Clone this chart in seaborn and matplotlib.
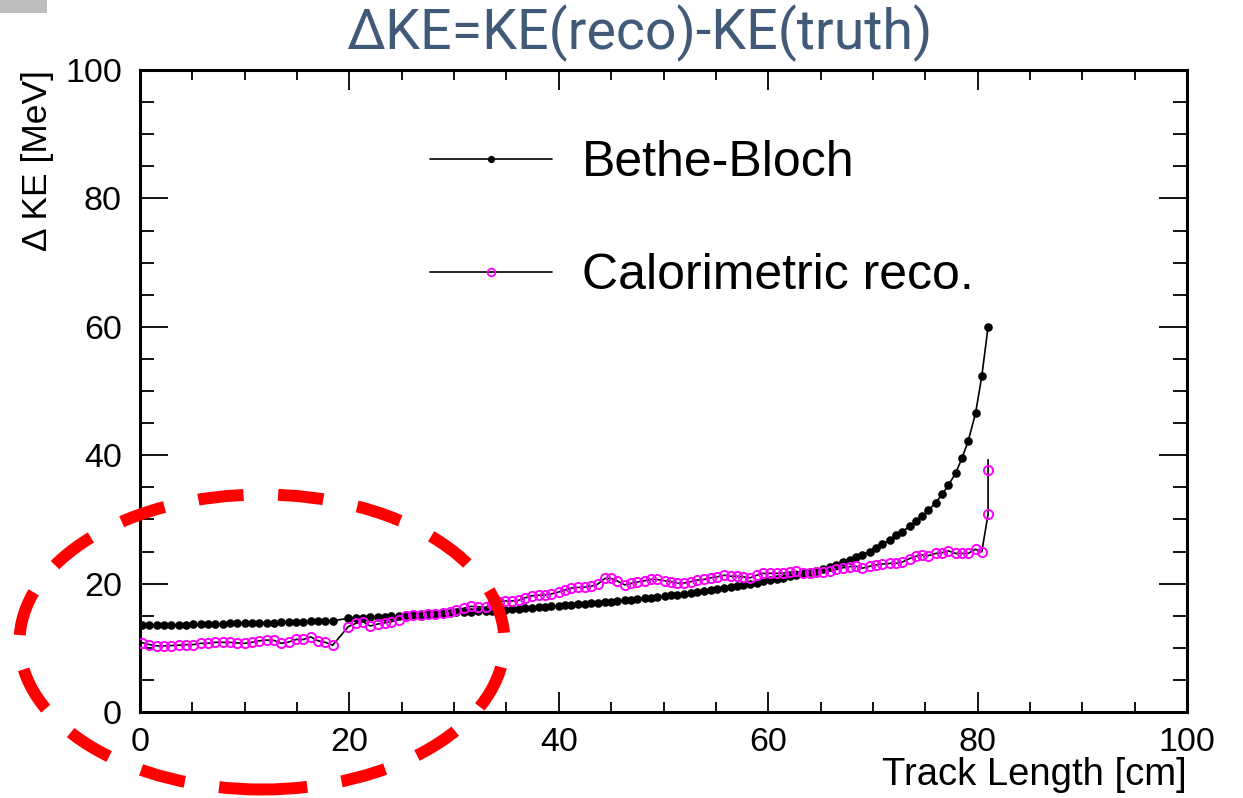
import numpy as np
import pandas as pd
import matplotlib
matplotlib.use("Agg")
import matplotlib.pyplot as plt
from matplotlib.lines import Line2D
from matplotlib.patches import Ellipse, Rectangle
from matplotlib.ticker import MultipleLocator
import seaborn as sns

# ---------------- data ----------------
track_length = [
    0.2, 0.9, 1.6, 2.3, 3.0, 3.7, 4.4, 5.1, 5.8, 6.5, 7.2, 7.9, 8.6, 9.3, 10.0,
    10.7, 11.4, 12.1, 12.8, 13.5, 14.2, 14.9, 15.6, 16.3, 17.0, 17.7, 18.4,
    19.9, 20.6, 21.3, 22.0, 22.7, 23.4, 24.0, 24.7, 25.4, 26.1, 26.8, 27.5, 28.2,
    28.9, 29.6, 30.2, 30.9, 31.6, 32.3, 33.0,
    33.6, 34.3, 34.9, 35.5, 36.2, 36.8, 37.4, 38.1, 38.7, 39.3,
    40.0, 40.6, 41.2, 41.8, 42.5, 43.1, 43.7, 44.4, 45.0, 45.6,
    46.3, 46.9, 47.5, 48.2, 48.8, 49.4, 50.1, 50.7, 51.3, 52.0,
    52.6, 53.2, 53.9, 54.5, 55.1, 55.8, 56.4, 57.0, 57.6, 58.3,
    58.9, 59.5, 60.2, 60.8, 61.4, 62.1, 62.7, 63.3, 64.0, 64.6,
    65.2, 65.9, 66.5, 67.1, 67.8, 68.4, 69.0, 69.7, 70.3, 70.9,
    71.6, 72.2, 72.8, 73.5, 74.1, 74.7, 75.3, 76.0, 76.6, 77.2,
    77.9, 78.5, 79.1, 79.8, 80.4, 81.0,
]

bethe_bloch = [
    13.5, 13.5, 13.5, 13.55, 13.6, 13.6, 13.6, 13.65, 13.7, 13.7, 13.7, 13.75, 13.8,
    13.8, 13.8, 13.85, 13.9, 13.9, 13.9, 13.95, 14.0, 14.0, 14.05, 14.1, 14.1, 14.15, 14.2,
    14.6, 14.65, 14.7, 14.75, 14.8, 14.85, 14.9, 15.0, 15.05, 15.1, 15.15, 15.2, 15.3,
    15.35, 15.4, 15.5, 15.55, 15.6, 15.7, 15.75,
    15.8, 15.9, 15.95, 16.0, 16.1, 16.15, 16.25, 16.3, 16.4, 16.45,
    16.55, 16.6, 16.7, 16.8, 16.9, 16.95, 17.05, 17.15, 17.2, 17.3,
    17.4, 17.5, 17.6, 17.7, 17.8, 17.95, 18.05, 18.15, 18.3, 18.4,
    18.55, 18.7, 18.85, 19.0, 19.1, 19.3, 19.45, 19.6, 19.8, 19.95,
    20.15, 20.35, 20.55, 20.75, 20.95, 21.2, 21.4, 21.6, 21.8, 22.0,
    22.3, 22.6, 22.9, 23.3, 23.7, 24.1, 24.5, 25.0, 25.6, 26.1,
    26.8, 27.5, 28.1, 28.9, 29.7, 30.5, 31.4, 32.6, 33.9, 35.3,
    37.2, 39.5, 42.2, 46.5, 52.3, 60.0,
]

calo_reco = [
    10.8, 10.5, 10.3, 10.3, 10.35, 10.4, 10.5, 10.5, 10.7, 10.7, 10.85, 10.85, 10.85,
    10.75, 10.7, 10.85, 11.1, 11.2, 11.15, 10.7, 10.9, 11.3, 11.3, 11.7, 11.1, 10.85, 10.4,
    13.3, 13.8, 14.05, 13.4, 13.7, 13.9, 14.05, 14.4, 14.9, 15.05, 15.05, 15.2, 15.3,
    15.45, 15.65, 15.95, 16.15, 16.45, 16.4, 16.3,
    16.9, 17.2, 17.3, 17.3, 17.4, 17.8, 18.1, 18.2, 18.2, 18.4,
    18.7, 19.0, 19.3, 19.4, 19.45, 19.6, 19.9, 20.8, 20.8, 20.4,
    19.8, 20.05, 20.25, 20.45, 20.65, 20.65, 20.45, 20.3, 20.05, 20.1,
    20.3, 20.55, 20.65, 20.9, 21.05, 21.3, 21.15, 21.15, 21.05, 20.9,
    21.3, 21.6, 21.6, 21.6, 21.65, 21.8, 21.9, 21.7, 21.7, 21.8,
    21.85, 21.95, 22.2, 22.45, 22.65, 22.7, 22.4, 22.7, 22.9, 23.05,
    23.15, 23.15, 23.35, 23.9, 24.25, 24.45, 24.35, 24.7, 24.8, 25.1,
    24.7, 24.7, 24.7, 25.35, 24.95, 30.8,
]

# last reconstructed point and the end of the smoothed curve (no marker)
calo_tail_length = [81.0, 81.0]
calo_tail_values = [37.7, 39.3]

series_labels = ["Bethe-Bloch", "Calorimetric reco."]
title_text = "\u0394KE=KE(reco)-KE(truth)"
x_label = "Track Length [cm]"
y_label = "\u0394 KE [MeV]"

# ---------------- style ----------------
sns.set_theme(style="ticks")
plt.rcParams["font.family"] = ["Liberation Sans", "DejaVu Sans"]
plt.rcParams["axes.linewidth"] = 2.2
plt.rcParams["text.color"] = "black"

W, H = 1243, 798
fig = plt.figure(figsize=(W / 100, H / 100), dpi=100)
fig.patch.set_facecolor("white")

ax_l, ax_r, ax_t, ax_b = 140, 1187, 70, 712
ax = fig.add_axes([ax_l / W, 1 - ax_b / H, (ax_r - ax_l) / W, (ax_b - ax_t) / H])
ax.set_facecolor("white")

df_bb = pd.DataFrame({"x": track_length, "y": bethe_bloch})
df_calo = pd.DataFrame({"x": track_length + calo_tail_length,
                        "y": calo_reco + calo_tail_values})

sns.lineplot(data=df_bb, x="x", y="y", ax=ax, estimator=None, sort=False,
             color="black", lw=1.2, marker="o", markersize=6.2,
             markerfacecolor="black", markeredgecolor="black",
             markeredgewidth=0, zorder=3)

n_calo_marked = len(track_length) + 1
sns.lineplot(data=df_calo, x="x", y="y", ax=ax, estimator=None, sort=False,
             color="black", lw=1.2, marker="o", markersize=6.6,
             markerfacecolor="none", markeredgecolor="#ff00ff",
             markeredgewidth=1.4, markevery=list(range(n_calo_marked)),
             zorder=4)

ax.set_xlim(0, 100)
ax.set_ylim(0, 100)
ax.xaxis.set_major_locator(MultipleLocator(20))
ax.xaxis.set_minor_locator(MultipleLocator(5))
ax.yaxis.set_major_locator(MultipleLocator(20))
ax.yaxis.set_minor_locator(MultipleLocator(5))

ax.tick_params(which="both", direction="in", top=True, right=True,
               width=1.3, color="black", labelsize=24.5, labelcolor="black")
ax.xaxis.set_tick_params(which="major", length=14.4, pad=11)
ax.xaxis.set_tick_params(which="minor", length=7.2)
ax.yaxis.set_tick_params(which="major", length=20, pad=13)
ax.yaxis.set_tick_params(which="minor", length=10)
for s in ax.spines.values():
    s.set_visible(True)
    s.set_color("black")
    s.set_linewidth(2.2)

ax.set_xlabel("")
ax.set_ylabel("")
fig.text(ax_r / W, 1 - 785 / H, x_label, ha="right", va="baseline",
         fontsize=27.5, color="black")
fig.text(38 / W, 1 - ax_t / H, y_label, ha="center", va="top",
         rotation=90, fontsize=25.5, color="black")

fig.text(639 / W, 1 - 33 / H, title_text, ha="center", va="center",
         fontsize=40, color="#405a78", family=["Roboto", "DejaVu Sans"])

handles = [
    Line2D([], [], color="black", lw=1.2, marker="o", markersize=5.2,
           markerfacecolor="black", markeredgewidth=0),
    Line2D([], [], color="black", lw=1.2, marker="o", markersize=5.5,
           markerfacecolor="none", markeredgecolor="#ff00ff", markeredgewidth=1.3),
]
leg = ax.legend(handles, series_labels, loc="upper left",
                bbox_to_anchor=(430 / W, 1 - 140 / H), bbox_transform=fig.transFigure,
                frameon=False, fontsize=36, handlelength=2.44, handletextpad=0.6,
                labelspacing=1.34, borderpad=0, borderaxespad=0)
for t in leg.get_texts():
    t.set_color("black")

# red dashed ellipse annotation
ell = Ellipse((262 / W, 1 - 642 / H), 485 / W, 295 / H, transform=fig.transFigure,
              fill=False, edgecolor="#ff0000", lw=8.6,
              linestyle=(0, (3.8, 2.9)), zorder=10)
ell.set_capstyle("butt")
fig.add_artist(ell)

# grey corner patch
fig.add_artist(Rectangle((0, 1 - 13 / H), 47 / W, 13 / H, transform=fig.transFigure,
                         facecolor="#bdbdbd", edgecolor="none", zorder=10))

fig.savefig("out.png", dpi=100)
